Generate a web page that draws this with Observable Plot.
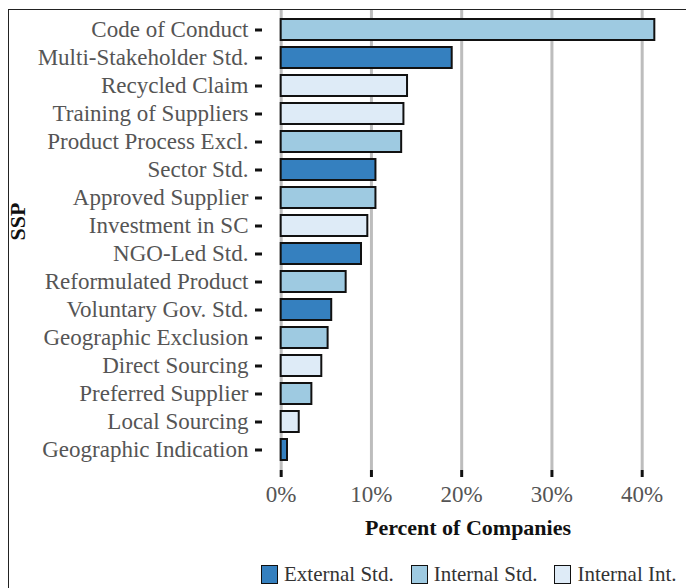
<!DOCTYPE html>
<html>
<head>
<meta charset="utf-8">
<script src="https://cdn.jsdelivr.net/npm/d3@7"></script>
<script src="https://cdn.jsdelivr.net/npm/@observablehq/plot@0.6"></script>
<style>
  html, body { margin: 0; padding: 0; background: #fff; }
  body { width: 686px; height: 588px; position: relative; overflow: hidden; font-family: "Liberation Serif", serif; }
  #frame { position: absolute; left: 8px; top: 9px; right: -2px; bottom: -2px; border-left: 1.5px solid #222; border-top: 1.5px solid #222; pointer-events: none; }
  #chart { position: absolute; left: 0; top: 0; }
  #legend { position: absolute; top: 563px; left: 261px; display: flex; align-items: center; white-space: nowrap; font-size: 21px; color: #333; line-height: 23px; }
  #legend .sw { display: inline-block; width: 15px; height: 17px; border: 1.8px solid #111; margin-right: 6px; box-sizing: content-box; }
  #legend .it { display: flex; align-items: center; margin-right: 17px; }
</style>
</head>
<body>
<div id="chart"></div>
<div id="legend"></div>
<div id="frame"></div>
<script>
// Categories from top to bottom
const categories = [
  "Code of Conduct", "Multi-Stakeholder Std.", "Recycled Claim", "Training of Suppliers",
  "Product Process Excl.", "Sector Std.", "Approved Supplier", "Investment in SC",
  "NGO-Led Std.", "Reformulated Product", "Voluntary Gov. Std.", "Geographic Exclusion",
  "Direct Sourcing", "Preferred Supplier", "Local Sourcing", "Geographic Indication"
];
// Percent of companies
const percents = [41.4, 18.95, 14.0, 13.6, 13.35, 10.5, 10.5, 9.6, 8.9, 7.2, 5.6, 5.2, 4.5, 3.4, 2.0, 0.7];
// Type of each SSP
const types = [
  "Internal Std.", "External Std.", "Internal Int.", "Internal Int.",
  "Internal Std.", "External Std.", "Internal Std.", "Internal Int.",
  "External Std.", "Internal Std.", "External Std.", "Internal Std.",
  "Internal Int.", "Internal Std.", "Internal Int.", "External Std."
];
const typeNames = ["External Std.", "Internal Std.", "Internal Int."];
const typeColors = ["#3580bf", "#9ecae1", "#deebf7"];
const xTicks = [0, 10, 20, 30, 40];

const data = categories.map((c, i) => ({ssp: c, pct: percents[i], type: types[i]}));

const font = '"Liberation Serif", serif';

const chart = Plot.plot({
  width: 686,
  height: 550,
  marginTop: 10,
  marginBottom: 80,
  marginLeft: 262,
  marginRight: 13,
  style: { fontFamily: font, fontSize: "23px", background: "transparent", color: "#555" },
  x: { domain: [-2.07, 43.47] },
  y: { domain: categories, paddingInner: 0.24, paddingOuter: 0.22, align: 0.5 },
  color: { domain: typeNames, range: typeColors },
  marks: [
    Plot.ruleX(xTicks, { stroke: "#bdbdbd", strokeWidth: 3 }),
    Plot.barX(data, {
      x1: 0, x2: "pct", y: "ssp", fill: "type",
      stroke: "#111", strokeWidth: 2
    }),
    Plot.axisY({
      ticks: categories, tickSize: 7, tickPadding: 7, strokeWidth: 3, stroke: "#111",
      fill: "#555", fontSize: 23, label: null
    }),
    Plot.axisX({
      ticks: xTicks, tickSize: 7, tickPadding: 8, strokeWidth: 3, stroke: "#111",
      fill: "#555", fontSize: 23, tickFormat: d => d + "%", label: null
    }),
    Plot.text(["Percent of Companies"], {
      frameAnchor: "bottom", dy: 64, fontWeight: "bold", fontSize: 22, fill: "#111"
    }),
    Plot.text(["SSP"], {
      frameAnchor: "left", dx: -245, rotate: -90, fontWeight: "bold", fontSize: 22, fill: "#111"
    })
  ]
});
document.getElementById("chart").appendChild(chart);

const legend = document.getElementById("legend");
typeNames.forEach((t, i) => {
  const it = document.createElement("span");
  it.className = "it";
  const sw = document.createElement("span");
  sw.className = "sw";
  sw.style.background = typeColors[i];
  it.appendChild(sw);
  it.appendChild(document.createTextNode(t));
  legend.appendChild(it);
});
</script>
</body>
</html>
